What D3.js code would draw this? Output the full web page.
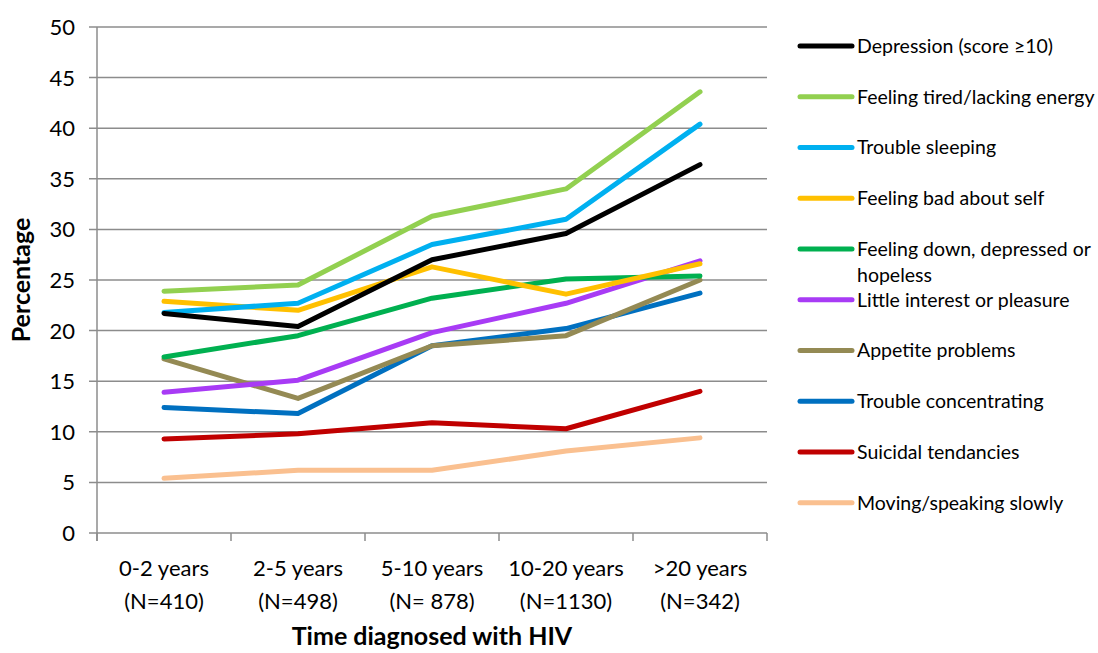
<!DOCTYPE html>
<html>
<head>
<meta charset="utf-8">
<script src="https://cdn.jsdelivr.net/npm/d3@7"></script>
<style>
  body { margin: 0; background: #fff; }
  svg text { font-family: Lato, "Open Sans", sans-serif; fill: #000; }
</style>
</head>
<body>
<svg id="chart" width="1098" height="653"></svg>
<script>
// categories on x
const categories = ["0-2 years|(N=410)", "2-5 years|(N=498)", "5-10 years|(N= 878)", "10-20 years|(N=1130)", ">20 years|(N=342)"];
const yTicks = [0, 5, 10, 15, 20, 25, 30, 35, 40, 45, 50];

const seriesNames = ["Depression (score \u226510)", "Feeling tired/lacking energy", "Trouble sleeping", "Feeling bad about self",
  "Feeling down, depressed or|hopeless", "Little interest or pleasure", "Appetite problems", "Trouble concentrating",
  "Suicidal tendancies", "Moving/speaking slowly"];
const seriesColors = ["#000000", "#92D050", "#00B0F0", "#FFC000", "#00B050", "#A83BF5", "#948A54", "#0070C0", "#C00000", "#FAC090"];

const depression = [21.7, 20.4, 27.0, 29.6, 36.4];
const tired = [23.9, 24.5, 31.3, 34.0, 43.6];
const sleeping = [21.8, 22.7, 28.5, 31.0, 40.4];
const badSelf = [22.9, 22.0, 26.3, 23.6, 26.6];
const down = [17.4, 19.5, 23.2, 25.1, 25.4];
const interest = [13.9, 15.1, 19.8, 22.7, 26.9];
const appetite = [17.2, 13.3, 18.5, 19.5, 25.0];
const concentrating = [12.4, 11.8, 18.5, 20.2, 23.7];
const suicidal = [9.3, 9.8, 10.9, 10.3, 14.0];
const slowly = [5.4, 6.2, 6.2, 8.1, 9.4];
const allSeries = [depression, tired, sleeping, badSelf, down, interest, appetite, concentrating, suicidal, slowly];

const svg = d3.select("#chart");
const plot = {left: 97, right: 767, top: 27, bottom: 533};

const x = d3.scaleBand().domain(categories).range([plot.left, plot.right]);
const y = d3.scaleLinear().domain([0, 50]).range([plot.bottom, plot.top]);

// gridlines
svg.append("g")
  .selectAll("line")
  .data(yTicks)
  .enter().append("line")
  .attr("x1", plot.left - 8).attr("x2", plot.right)
  .attr("y1", d => y(d)).attr("y2", d => y(d))
  .attr("stroke", "#8c8c8c").attr("stroke-width", 1.5);

// y tick labels
svg.append("g")
  .selectAll("text")
  .data(yTicks)
  .enter().append("text")
  .attr("x", 75).attr("y", d => y(d))
  .attr("dy", "0.36em")
  .attr("text-anchor", "end")
  .style("font-size", "22px")
  .text(d => d);

// y axis line
svg.append("line")
  .attr("x1", plot.left).attr("x2", plot.left)
  .attr("y1", plot.top).attr("y2", plot.bottom + 8)
  .attr("stroke", "#8c8c8c").attr("stroke-width", 1.5);

// x axis ticks (between categories)
const xTickPos = categories.map(c => x(c)).concat([plot.right]);
svg.append("g")
  .selectAll("line")
  .data(xTickPos)
  .enter().append("line")
  .attr("x1", d => d).attr("x2", d => d)
  .attr("y1", plot.bottom).attr("y2", plot.bottom + 8)
  .attr("stroke", "#8c8c8c").attr("stroke-width", 1.5);

// x category labels
const catLabels = svg.append("g")
  .selectAll("text")
  .data(categories)
  .enter().append("text")
  .attr("text-anchor", "middle")
  .style("font-size", "22px");
catLabels.each(function(d) {
  const parts = d.split("|");
  const t = d3.select(this);
  parts.forEach((p, i) => {
    t.append("tspan")
      .attr("x", x(d) + x.bandwidth() / 2)
      .attr("y", 576 + i * 33)
      .text(p);
  });
});

// axis titles
svg.append("text")
  .attr("transform", "translate(30,280) rotate(-90)")
  .attr("text-anchor", "middle")
  .style("font-size", "25px").style("font-weight", "bold")
  .text("Percentage");

svg.append("text")
  .attr("x", 432).attr("y", 645)
  .attr("text-anchor", "middle")
  .style("font-size", "25px").style("font-weight", "bold")
  .text("Time diagnosed with HIV");

// lines
const line = d3.line()
  .x((d, i) => x(categories[i]) + x.bandwidth() / 2)
  .y(d => y(d));

svg.append("g")
  .selectAll("path")
  .data(allSeries.map((v, i) => ({values: v, color: seriesColors[i]})).reverse())
  .enter().append("path")
  .attr("fill", "none")
  .attr("stroke", d => d.color)
  .attr("stroke-width", 5)
  .attr("stroke-linecap", "round")
  .attr("stroke-linejoin", "round")
  .attr("d", d => line(d.values));

// legend
const legend = svg.append("g");
seriesNames.forEach((name, i) => {
  const ly = 46 + i * 50.75;
  legend.append("line")
    .attr("x1", 800).attr("x2", 852)
    .attr("y1", ly).attr("y2", ly)
    .attr("stroke", seriesColors[i])
    .attr("stroke-width", 5)
    .attr("stroke-linecap", "round");
  const t = legend.append("text").style("font-size", "19.5px");
  name.split("|").forEach((p, j) => {
    t.append("tspan")
      .attr("x", 857)
      .attr("y", ly + j * 26)
      .attr("dy", "0.35em")
      .text(p);
  });
});
</script>
</body>
</html>
